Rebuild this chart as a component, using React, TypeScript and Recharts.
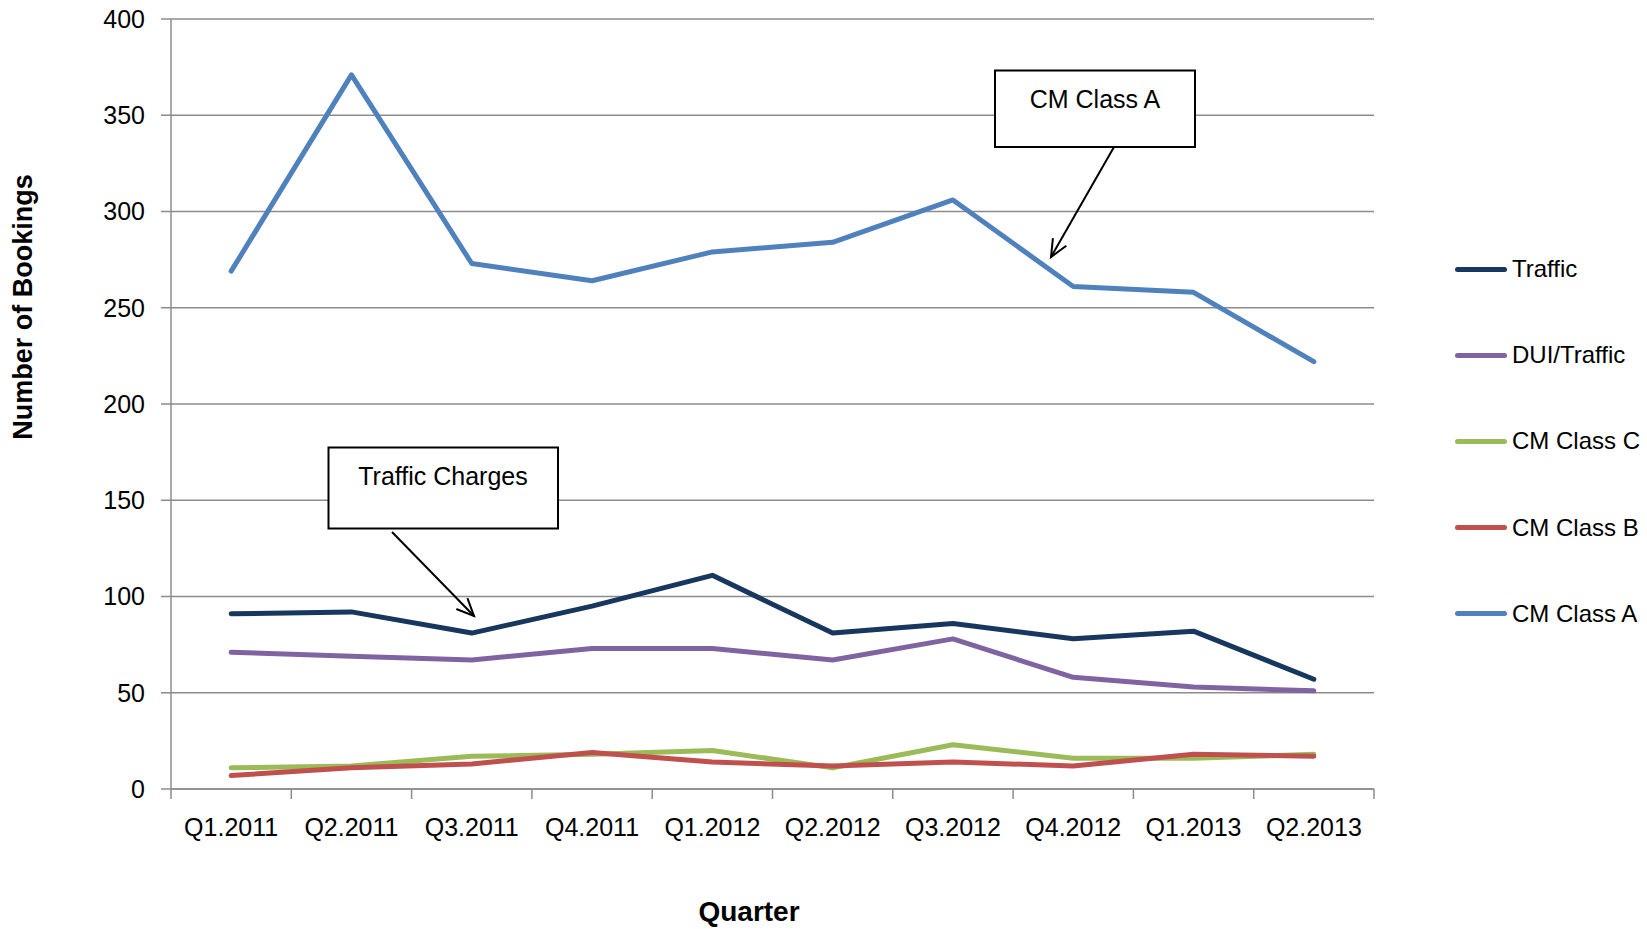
import React from 'react';
import { LineChart, Line, XAxis, YAxis, CartesianGrid, Legend } from 'recharts';

const categories = ['Q1.2011', 'Q2.2011', 'Q3.2011', 'Q4.2011', 'Q1.2012', 'Q2.2012', 'Q3.2012', 'Q4.2012', 'Q1.2013', 'Q2.2013'];
const traffic = [91, 92, 81, 95, 111, 81, 86, 78, 82, 57];
const duiTraffic = [71, 69, 67, 73, 73, 67, 78, 58, 53, 51];
const cmClassC = [11, 12, 17, 18, 20, 11, 23, 16, 16, 18];
const cmClassB = [7, 11, 13, 19, 14, 12, 14, 12, 18, 17];
const cmClassA = [269, 371, 273, 264, 279, 284, 306, 261, 258, 222];
const yTicks = [0, 50, 100, 150, 200, 250, 300, 350, 400];

const series = [
  { key: 'traffic', name: 'Traffic', color: '#17375E', values: traffic },
  { key: 'dui', name: 'DUI/Traffic', color: '#8064A2', values: duiTraffic },
  { key: 'c', name: 'CM Class C', color: '#9BBB59', values: cmClassC },
  { key: 'b', name: 'CM Class B', color: '#C0504D', values: cmClassB },
  { key: 'a', name: 'CM Class A', color: '#4F81BD', values: cmClassA },
];

const data = categories.map((cat, i) => {
  const row: any = { pos: i + 0.5, cat };
  series.forEach((s) => {
    row[s.key] = s.values[i];
  });
  return row;
});

const catTicks = categories.map((_, i) => i + 0.5);
const boundaryTicks = categories.map((_, i) => i).concat([categories.length]);

const FONT = '"Liberation Sans", Arial, sans-serif';
const GRID = '#8C8C8C';

const renderLegend = () => (
  <div style={{ position: 'relative', width: 1, height: 1, fontFamily: FONT, overflow: 'visible' }}>
    {series.map((s, i) => (
      <div
        key={s.key}
        style={{
          position: 'absolute',
          left: 0,
          top: i * 86.2,
          height: 40,
          display: 'flex',
          alignItems: 'center',
          whiteSpace: 'nowrap',
        }}
      >
        <div style={{ width: 52, height: 5, borderRadius: 3, background: s.color, flexShrink: 0 }} />
        <span style={{ marginLeft: 5, fontSize: 24, color: '#000', whiteSpace: 'nowrap' }}>{s.name}</span>
      </div>
    ))}
  </div>
);

const EmptyTick = () => <g />;

function Arrow({ x1, y1, x2, y2 }: { x1: number; y1: number; x2: number; y2: number }) {
  const ang = Math.atan2(y2 - y1, x2 - x1);
  const len = 19;
  const spread = (24 * Math.PI) / 180;
  const ax = x2 - len * Math.cos(ang - spread);
  const ay = y2 - len * Math.sin(ang - spread);
  const bx = x2 - len * Math.cos(ang + spread);
  const by = y2 - len * Math.sin(ang + spread);
  return (
    <g stroke="#000" strokeWidth={2} fill="none">
      <line x1={x1} y1={y1} x2={x2} y2={y2} />
      <polyline points={`${ax},${ay} ${x2},${y2} ${bx},${by}`} />
    </g>
  );
}

export default function App() {
  return (
    <div style={{ position: 'absolute', left: 0, top: 0, width: 1647, height: 929, background: '#fff' }}>
      <LineChart width={1647} height={929} data={data} margin={{ top: 19, right: 272, left: 0, bottom: 0 }}>
        <CartesianGrid vertical={false} stroke={GRID} strokeWidth={1.5} />
        <YAxis
          type="number"
          domain={[0, 400]}
          ticks={yTicks}
          interval={0}
          width={171}
          axisLine={{ stroke: GRID, strokeWidth: 1.5 }}
          tickLine={{ stroke: GRID, strokeWidth: 1.5 }}
          tickSize={10}
          tickMargin={16}
          tick={{ fontSize: 25, fill: '#000', fontFamily: FONT }}
        />
        <XAxis
          xAxisId="axis1"
          type="number"
          dataKey="pos"
          domain={[0, categories.length]}
          ticks={boundaryTicks}
          interval={0}
          allowDataOverflow
          height={10}
          tick={EmptyTick}
          tickSize={10}
          axisLine={{ stroke: GRID, strokeWidth: 1.5 }}
          tickLine={{ stroke: GRID, strokeWidth: 1.5 }}
        />
        <XAxis
          xAxisId="axis2"
          type="number"
          dataKey="pos"
          domain={[0, categories.length]}
          ticks={catTicks}
          interval={0}
          allowDataOverflow
          height={130}
          axisLine={false}
          tickLine={false}
          tickSize={0}
          tickMargin={19}
          tickFormatter={(v: number) => categories[Math.floor(v)]}
          tick={{ fontSize: 25, fill: '#000', fontFamily: FONT }}
        />
        <Legend
          layout="horizontal"
          verticalAlign="middle"
          align="right"
          content={renderLegend}
          wrapperStyle={{ left: 1455, top: 249, width: 1, height: 1, overflow: 'visible' }}
        />
        {series.map((s) => (
          <Line
            key={s.key}
            xAxisId="axis2"
            type="linear"
            dataKey={s.key}
            name={s.name}
            stroke={s.color}
            strokeWidth={5}
            strokeLinecap="round"
            strokeLinejoin="round"
            dot={false}
            activeDot={false}
            isAnimationActive={false}
          />
        ))}
      </LineChart>
      <svg
        width={1647}
        height={929}
        style={{ position: 'absolute', left: 0, top: 0, pointerEvents: 'none' }}
        fontFamily={FONT}
      >
        <text x={23} y={307} transform="rotate(-90 23 307)" textAnchor="middle" dominantBaseline="central" fontSize={27} fontWeight="bold" fill="#000">
          Number of Bookings
        </text>
        <text x={749} y={921} textAnchor="middle" fontSize={28} fontWeight="bold" fill="#000">
          Quarter
        </text>
        <rect x={995} y={70.5} width={200} height={76.5} fill="#fff" stroke="#000" strokeWidth={2} />
        <text x={1095} y={108} textAnchor="middle" fontSize={25} fill="#000">CM Class A</text>
        <Arrow x1={1114} y1={147} x2={1051} y2={257} />
        <rect x={328.5} y={447.5} width={229.5} height={81} fill="#fff" stroke="#000" strokeWidth={2} />
        <text x={443} y={485} textAnchor="middle" fontSize={25} fill="#000">Traffic Charges</text>
        <Arrow x1={392} y1={532} x2={474} y2={616} />
      </svg>
    </div>
  );
}
